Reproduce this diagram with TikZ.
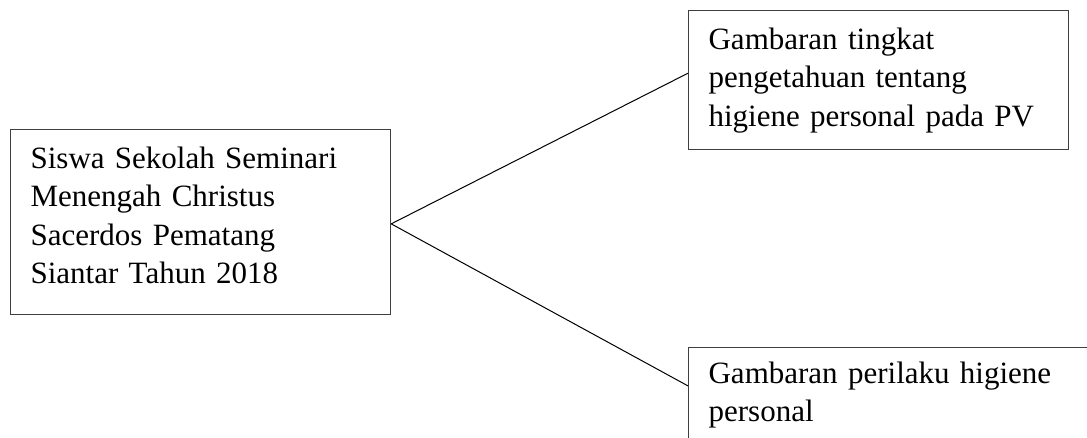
\documentclass[tikz,border=0pt]{standalone}
\usepackage{fontspec}
\setmainfont{Liberation Serif}
\begin{document}
\begin{tikzpicture}[x=1pt, y=-1pt]
  \tikzstyle{kotak}=[draw=black!75, line width=1.2pt, anchor=north west,
                     text width=340pt, align=left, inner xsep=20pt, inner ysep=17pt,
                     font=\fontsize{31}{38.5}\selectfont]
  \tikzstyle{garis}=[line width=1pt]
  \useasboundingbox (0, 0) rectangle (1087, 438);
  \node[kotak, text depth=129pt] (siswa) at (10, 129)
    {Siswa Sekolah Seminari\\Menengah Christus\\Sacerdos Pematang\\Siantar Tahun 2018};
  \node[kotak] (pengetahuan) at (688, 10)
    {Gambaran tingkat\\pengetahuan tentang\\higiene personal pada PV};
  \node[kotak, text width=400pt, inner ysep=14pt] (perilaku) at (688, 347)
    {Gambaran perilaku higiene\\personal};
  \draw[garis] ([yshift=-2pt]siswa.east) -- ([yshift=7pt]pengetahuan.west);
  \draw[garis] ([yshift=-2pt]siswa.east) -- ([yshift=9pt]perilaku.west);
\end{tikzpicture}
\end{document}
